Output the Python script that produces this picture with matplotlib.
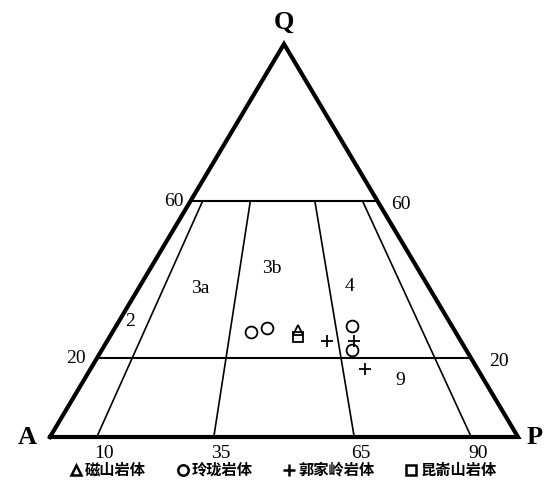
import numpy as np
import matplotlib.pyplot as plt
from matplotlib.lines import Line2D

# QAP data (percent)
groups = ["磁山岩体", "玲珑岩体", "郭家岭岩体", "昆嵛山岩体"]
cishan_Q = [27.2]
cishan_P = [39.3]
linglong_Q = [26.8, 27.7, 28.2, 22.1]
linglong_P = [29.5, 32.5, 50.4, 53.4]
guojialing_Q = [24.4, 24.5, 17.3]
guojialing_P = [46.9, 52.7, 58.7]
kunyushan_Q = [25.4]
kunyushan_P = [40.3]

q_levels = [60, 20]
ratio_bottom = [10, 35, 65, 90]
ratio_top = [6.5, 32, 66.5, 92]   # where the dividers meet the Q=60 line as drawn
region_names = ["2", "3a", "3b", "4", "9"]


def tern(q, p):
    q = np.asarray(q, float) / 100.0
    p = np.asarray(p, float) / 100.0
    return p + q / 2.0, q


def on_level(q, r):
    # point at Q level q with P/(A+P) = r
    return tern(q, r * (100 - q) / 100.0)


fig = plt.figure(figsize=(5.5, 4.91), dpi=100)
ax = fig.add_axes([0, 0, 1, 1])
# triangle A=(50,437) P=(518,437) Q=(284,44) in pixels
ax.set_xlim(-50 / 468, 500 / 468)
ax.set_ylim((437 - 491) / 393, 437 / 393)
ax.axis("off")

serif = "Liberation Serif"

# outline
tx, ty = tern([0, 0, 100, 0], [0, 100, 0, 0])
ax.plot(tx, ty, color="black", lw=3.0, solid_joinstyle="miter", zorder=3)

# Q level lines
for q in q_levels:
    x, y = tern([q, q], [0, 100 - q])
    ax.plot(x, y, color="black", lw=1.5)

# ratio dividers between bottom and Q=60
for rb, rt in zip(ratio_bottom, ratio_top):
    x0, y0 = on_level(0, rb)
    x1, y1 = on_level(60, rt)
    ax.plot([x0, x1], [y0, y1], color="black", lw=1.2)

# level labels
for q in q_levels:
    xl, yl = tern(q, 0)
    xr, yr = tern(q, 100 - q)
    off = 7 if q == 60 else 11
    ax.annotate(str(q), (xl, yl), xytext=(-off, 0), textcoords="offset pixels",
                ha="right", va="center", fontsize=14, family=serif)
    ax.annotate(str(q), (xr, yr), xytext=(off + 7, -3), textcoords="offset pixels",
                ha="left", va="center", fontsize=14, family=serif)

# bottom ratio labels
for rb in ratio_bottom:
    x, y = on_level(0, rb)
    ax.annotate(str(rb), (x, y), xytext=(7, -17), textcoords="offset pixels",
                ha="center", va="center", fontsize=14, family=serif)

# vertex labels
for lab, (q, p), dx, dy in [("Q", (100, 0), 0, 22), ("A", (0, 0), -23, 0), ("P", (0, 100), 17, 0)]:
    x, y = tern(q, p)
    ax.annotate(lab, (x, y), xytext=(dx, dy), textcoords="offset pixels",
                ha="center", va="center", fontsize=19, family=serif, fontweight="bold")

# region labels
region_pos = [(29.3, 2.5), (37.9, 13.1), (43.0, 25.9), (38.2, 44.8), (14.3, 67.7)]
for name, (q, p) in zip(region_names, region_pos):
    x, y = tern(q, p)
    ax.text(x, y, name, ha="center", va="center", fontsize=14, family=serif)

# data points
mk = dict(color="black", ls="none", mfc="none", mew=1.3)
ax.plot(*tern(cishan_Q, cishan_P), marker="^", ms=7, **mk)
ax.plot(*tern(linglong_Q, linglong_P), marker="o", ms=8.5, **mk)
ax.plot(*tern(guojialing_Q, guojialing_P), marker="+", ms=9, **mk)
ax.plot(*tern(kunyushan_Q, kunyushan_P), marker="s", ms=7, **mk)

lk = dict(color="black", ls="none", mfc="none", mew=1.8)
handles = [
    Line2D([], [], marker="^", ms=6.5, **lk),
    Line2D([], [], marker="o", ms=7.5, **lk),
    Line2D([], [], marker="+", ms=9, **lk),
    Line2D([], [], marker="s", ms=7.5, **lk),
]
leg = ax.legend(handles, groups, ncol=4, loc="center", bbox_to_anchor=(284 / 550, 1 - 470 / 491),
                frameon=False, handlelength=0.6, handletextpad=0.3, columnspacing=2.1,
                prop={"family": ["Noto Sans CJK SC", "DejaVu Sans"], "size": 11, "weight": "bold"})

fig.savefig("out.png", dpi=100)
